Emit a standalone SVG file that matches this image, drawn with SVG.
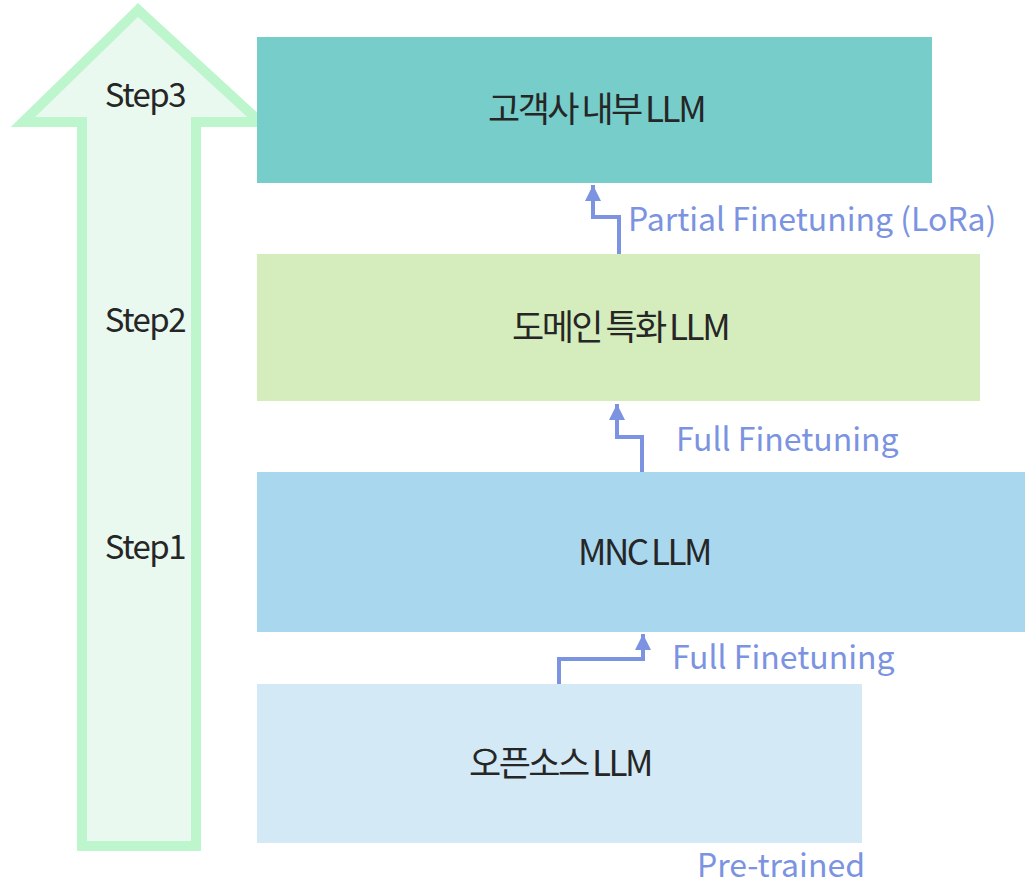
<svg xmlns="http://www.w3.org/2000/svg" width="1025" height="887" viewBox="0 0 1025 887">
  <style>
    .box-label { font-family: "Noto Sans CJK KR", "Noto Sans", sans-serif; font-size: 35px; fill: #262626; text-anchor: middle; dominant-baseline: central; letter-spacing: -2.5px; word-spacing: -1px; }
    .step { font-family: "Noto Sans CJK KR", "Noto Sans", sans-serif; font-size: 33px; fill: #262626; text-anchor: middle; dominant-baseline: central; letter-spacing: -1.5px; }
    .edge-label { font-family: "Noto Sans CJK KR", "Noto Sans", sans-serif; font-size: 32px; fill: #7B93E0; }
    .conn { fill: none; stroke: #7B93E0; stroke-width: 4; stroke-linejoin: miter; }
  </style>
  <defs>
    <marker id="head" viewBox="0 0 10 10" refX="10" refY="5" markerWidth="4" markerHeight="4" orient="auto" markerUnits="strokeWidth">
      <path d="M0,0 L10,5 L0,10 Z" fill="#7B93E0"/>
    </marker>
  </defs>

  <rect width="1025" height="887" fill="#FFFFFF"/>

  <!-- Big upward step arrow -->
  <g id="step-arrow">
    <polygon points="138,10 23,122 82,122 82,846 196,846 196,122 260,122" fill="#EAF9EF" stroke="#BDF5CC" stroke-width="10" stroke-linejoin="miter"/>
    <text class="step" x="145" y="93">Step3</text>
    <text class="step" x="145" y="318">Step2</text>
    <text class="step" x="145" y="545">Step1</text>
  </g>

  <!-- Model boxes -->
  <g id="node-internal">
    <rect x="257" y="37" width="675" height="146" fill="#76CDCA"/>
    <text class="box-label" x="596" y="106">고객사 내부 LLM</text>
  </g>
  <g id="node-domain">
    <rect x="257" y="254" width="723" height="147" fill="#D5ECBC"/>
    <text class="box-label" x="620" y="324">도메인 특화 LLM</text>
  </g>
  <g id="node-mnc">
    <rect x="257" y="472" width="768" height="160" fill="#A9D7EE"/>
    <text class="box-label" x="644" y="549">MNC LLM</text>
  </g>
  <g id="node-opensource">
    <rect x="257" y="684" width="605" height="159" fill="#D3EAF6"/>
    <text class="box-label" x="560" y="760">오픈소스 LLM</text>
  </g>

  <!-- Connectors between models -->
  <g id="connectors">
    <path class="conn" d="M559,684 L559,659 L643,659 L643,634" marker-end="url(#head)"/>
    <path class="conn" d="M642,472 L642,437 L617,437 L617,404" marker-end="url(#head)"/>
    <path class="conn" d="M619,254 L619,217 L593,217 L593,185" marker-end="url(#head)"/>
    <text class="edge-label" x="628" y="231">Partial Finetuning (LoRa)</text>
    <text class="edge-label" x="676" y="451">Full Finetuning</text>
    <text class="edge-label" x="672" y="669">Full Finetuning</text>
    <text class="edge-label" x="865" y="877" text-anchor="end">Pre-trained</text>
  </g>
</svg>
